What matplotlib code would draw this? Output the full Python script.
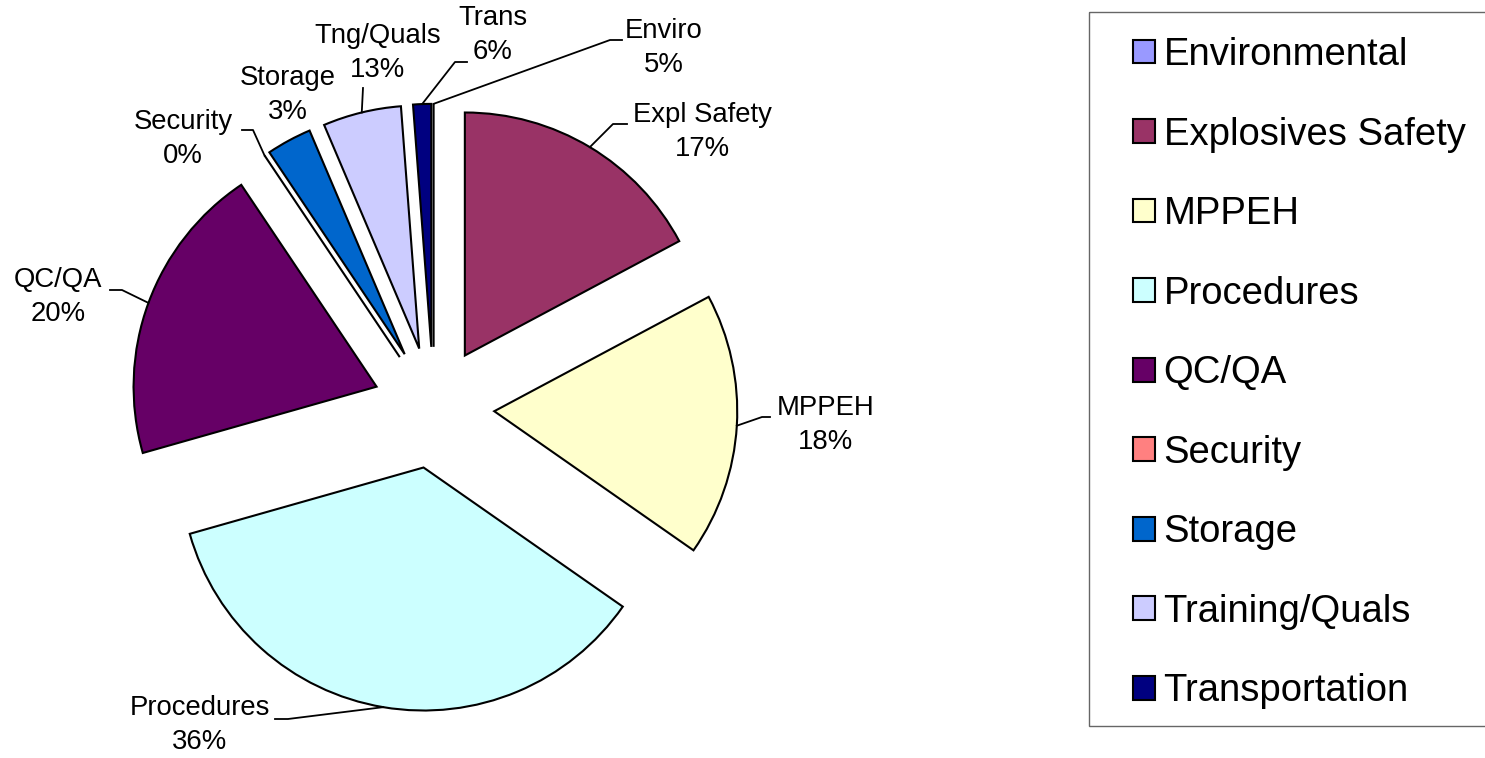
import matplotlib
matplotlib.use('Agg')
import matplotlib.pyplot as plt
from matplotlib.patches import Rectangle
import numpy as np

plt.rcParams['font.family'] = ['Liberation Sans', 'DejaVu Sans']

# slice shares, in legend order
categories = ['Environmental', 'Explosives Safety', 'MPPEH', 'Procedures', 'QC/QA',
              'Security', 'Storage', 'Training/Quals', 'Transportation']
shares = [0.0, 17.2, 17.5, 35.9, 20.0, 0.0, 3.0, 5.2, 1.2]
colors = ['#9999FF', '#993366', '#FFFFCC', '#CCFFFF', '#660066',
          '#FF8080', '#0066CC', '#CCCCFF', '#000080']

# the data labels as printed on the chart
short_names = ['Enviro', 'Expl Safety', 'MPPEH', 'Procedures', 'QC/QA',
               'Security', 'Storage', 'Tng/Quals', 'Trans']
label_pcts = ['5%', '17%', '18%', '36%', '20%', '0%', '3%', '13%', '6%']

# label layout in pixels: text centre, leader elbow, leader end (None = no leader)
label_layout = [
    ((664, 48), (610, 40), (622, 40)),
    ((702, 132), (613, 124), (627, 124)),
    ((826, 425), (762, 417), (770, 417)),
    ((200, 725), (288, 719), (275, 719)),
    ((58, 297), (122, 290), (110, 290)),
    ((183, 139), (253, 130), (242, 130)),
    ((288, 95), None, None),
    ((378, 53), (363, 88), (363, 88)),
    ((493, 35), (455, 62), (467, 62)),
]

W, H = 1485, 758
RADIUS = 243
fig = plt.figure(figsize=(W / 100, H / 100), dpi=100)
ax = fig.add_axes([0, 0, 1, 1])

wedges, _ = ax.pie(
    shares, colors=colors, explode=[0.25 * RADIUS] * len(shares),
    center=(433.6, 407.6), radius=RADIUS, startangle=-90, counterclock=True,
    wedgeprops=dict(edgecolor='black', linewidth=1.5), frame=True,
)
ax.set_xlim(0, W)
ax.set_ylim(H, 0)
ax.axis('off')

for wedge, name, pct, (txt, elbow, end) in zip(wedges, short_names, label_pcts, label_layout):
    ax.text(txt[0], txt[1], f'{name}\n{pct}', ha='center', va='center',
            fontsize=19.8, linespacing=1.37)
    if elbow is None:
        continue
    mid = np.deg2rad((wedge.theta1 + wedge.theta2) / 2)
    cx, cy = wedge.center
    rim = (cx + wedge.r * np.cos(mid), cy + wedge.r * np.sin(mid))
    ax.plot([rim[0], elbow[0], end[0]], [rim[1], elbow[1], end[1]],
            color='black', linewidth=1.3)

ax.add_patch(Rectangle((1089, 12), 420, 714, facecolor='none',
                       edgecolor='#666666', linewidth=1.0, clip_on=False))

fig.legend(
    wedges, categories, loc='upper left',
    bbox_to_anchor=(1133 / W, 1 - 37 / H), frameon=False,
    fontsize=27.5, handlelength=0.58, handleheight=0.58, handletextpad=0.22,
    labelspacing=1.14, borderpad=0, borderaxespad=0,
)

fig.savefig('out.png', dpi=100)
